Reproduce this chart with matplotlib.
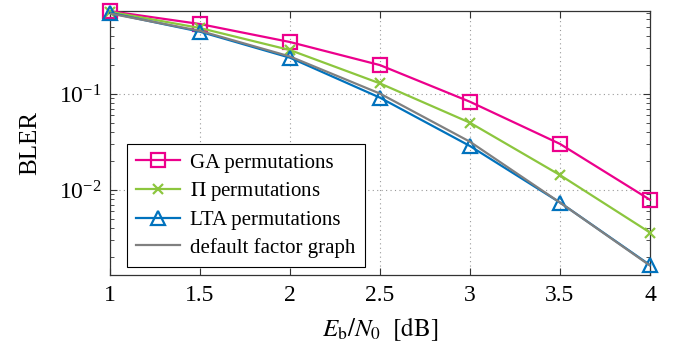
import numpy as np
import matplotlib
matplotlib.use('Agg')
import matplotlib.pyplot as plt
from matplotlib.ticker import LogLocator, NullFormatter, FixedLocator

plt.rcParams['font.family'] = ['Liberation Serif', 'DejaVu Serif']
plt.rcParams['mathtext.fontset'] = 'stix'

EBN0 = [1.0, 1.5, 2.0, 2.5, 3.0, 3.5, 4.0]
XTICK_LABELS = ['1', '1.5', '2', '2.5', '3', '3.5', '4']

BLER_GA = [0.73, 0.536, 0.348, 0.200, 0.083, 0.0302, 0.0079]
BLER_PI = [0.72, 0.487, 0.287, 0.129, 0.0502, 0.0143, 0.0036]
BLER_LTA = [0.70, 0.446, 0.239, 0.0916, 0.0287, 0.0074, 0.00165]
BLER_DEFAULT = [0.69, 0.455, 0.246, 0.101, 0.0318, 0.0074, 0.00163]

MAGENTA = '#ec008c'
GREEN = '#8cc63e'
BLUE = '#0072bd'
GRAY = '#808080'

fig = plt.figure(figsize=(6.78, 3.51), dpi=100)
ax = fig.add_axes([0.1622, 0.2165, 0.7965, 0.7522])

ax.plot(EBN0, BLER_GA, color=MAGENTA, lw=1.6, marker='s', ms=10,
        mfc='none', mew=1.6, label='GA permutations', zorder=3, clip_on=False)
ax.plot(EBN0, BLER_PI, color=GREEN, lw=1.6, marker='x', ms=7,
        mew=1.6, label=r'$\Pi$ permutations', zorder=3, clip_on=False)
ax.plot(EBN0, BLER_LTA, color=BLUE, lw=1.6, marker='^', ms=9.5,
        mfc='none', mew=1.6, label='LTA permutations', zorder=3, clip_on=False)
ax.plot(EBN0, BLER_DEFAULT, color=GRAY, lw=1.6,
        label='default factor graph', zorder=4)

ax.set_yscale('log')
ax.set_xlim(1, 4)
ax.set_ylim(1.30e-3, 0.733)
ax.xaxis.set_major_locator(FixedLocator(EBN0))
ax.set_xticklabels(XTICK_LABELS)
ax.yaxis.set_major_locator(LogLocator(base=10))
ax.yaxis.set_minor_locator(LogLocator(base=10, subs=np.arange(2, 10)))
ax.yaxis.set_minor_formatter(NullFormatter())

ax.tick_params(which='both', direction='in', top=True, right=True,
               labelsize=17, color='#333333')
ax.tick_params(which='major', length=5, width=0.8)
ax.tick_params(which='minor', length=3, width=0.6)
ax.tick_params(axis='x', pad=7)
ax.tick_params(axis='y', pad=6)
for spine in ax.spines.values():
    spine.set_linewidth(0.9)
    spine.set_color('#333333')

ax.grid(True, which='major', linestyle=(0, (1, 3)), color='#999999', lw=0.8)

ax.set_xlabel(r'$E_\mathrm{b}/N_0\ \ \mathrm{[dB]}$', fontsize=18, labelpad=7)
ax.set_ylabel('BLER', fontsize=18, labelpad=13)

leg = ax.legend(loc='lower left', bbox_to_anchor=(0.031, 0.03),
                fontsize=15, frameon=True, fancybox=False, edgecolor='black',
                framealpha=1, handlelength=2.1, labelspacing=0.36,
                borderpad=0.45, handletextpad=0.5, borderaxespad=0)
leg.get_frame().set_linewidth(0.8)
leg.set_zorder(5)

fig.savefig('out.png', dpi=100)
plt.close(fig)
